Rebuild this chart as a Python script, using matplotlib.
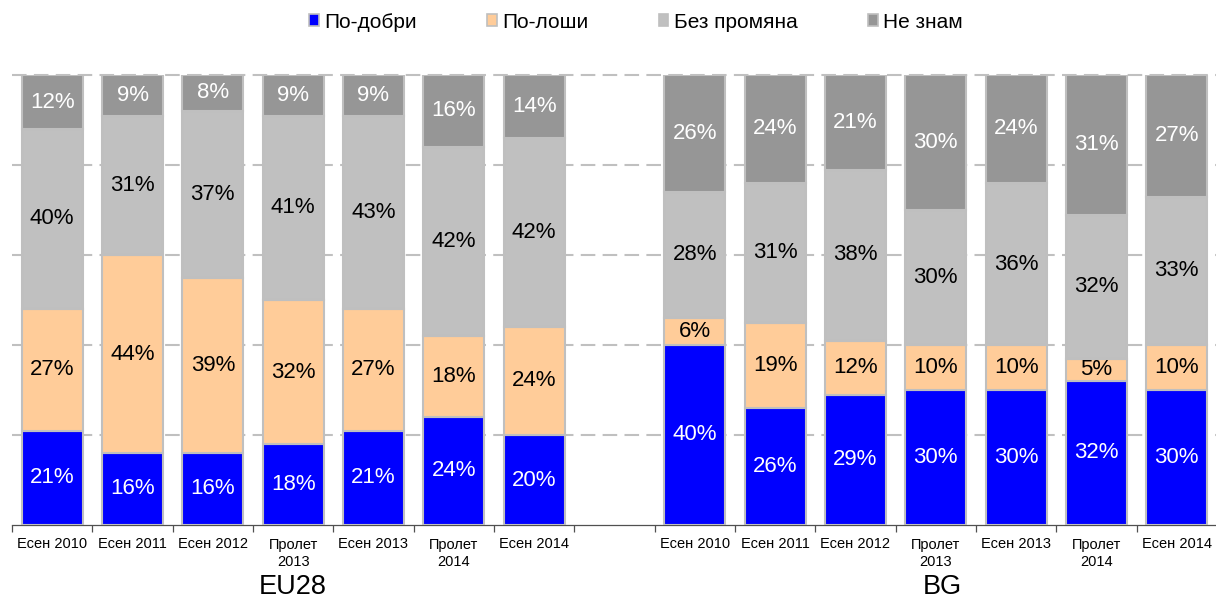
import numpy as np
import matplotlib
matplotlib.use("Agg")
import matplotlib.pyplot as plt
from matplotlib.patches import Rectangle

plt.rcParams['font.family'] = ['Liberation Sans', 'DejaVu Sans']

# --- data ---
periods = ["Есен 2010", "Есен 2011", "Есен 2012", "Пролет\n2013",
           "Есен 2013", "Пролет\n2014", "Есен 2014"]
series = ["По-добри", "По-лоши", "Без промяна", "Не знам"]

eu_better = [21, 16, 16, 18, 21, 24, 20]
eu_worse  = [27, 44, 39, 32, 27, 18, 24]
eu_same   = [40, 31, 37, 41, 43, 42, 42]
eu_dk     = [12, 9, 8, 9, 9, 16, 14]

bg_better = [40, 26, 29, 30, 30, 32, 30]
bg_worse  = [6, 19, 12, 10, 10, 5, 10]
bg_same   = [28, 31, 38, 30, 36, 32, 33]
bg_dk     = [26, 24, 21, 30, 24, 31, 27]

groups = ["EU28", "BG"]

colors = ["#0000ff", "#ffcc99", "#c0c0c0", "#969696"]
txt_colors = ["white", "black", "black", "white"]
edge = "#bfbfbf"

# --- layout ---
fig = plt.figure(figsize=(12.16, 6.03), dpi=100)
ax = fig.add_axes([12/1216, 1-525/603, 1205/1216, 450/603])

n = len(periods)
x_eu = np.arange(n)
x_bg = np.arange(n) + n + 1
xs = np.concatenate([x_eu, x_bg])

stack = [eu_better + bg_better, eu_worse + bg_worse,
         eu_same + bg_same, eu_dk + bg_dk]

bottom = np.zeros(len(xs))
for vals, col, tc in zip(stack, colors, txt_colors):
    vals = np.array(vals, dtype=float)
    ax.bar(xs, vals, bottom=bottom, width=0.76, color=col,
           edgecolor=edge, linewidth=1.5, zorder=3)
    for xi, b, v in zip(xs, bottom, vals):
        ax.text(xi, b + v/2, f"{int(v)}%", ha="center", va="center",
                fontsize=16, color=tc, zorder=4)
    bottom += vals

ax.set_xlim(-0.5, 2*n + 0.5)
ax.set_ylim(0, 100)

for yv in [20, 40, 60, 80, 100]:
    ax.axhline(yv, color="#c0c0c0", lw=1.5, ls=(0, (7, 3.5)), zorder=1,
               clip_on=False)

for s in ["left", "right", "top"]:
    ax.spines[s].set_visible(False)
ax.spines["bottom"].set_color("#505050")
ax.spines["bottom"].set_linewidth(0.9)

ax.set_yticks([])
ax.set_xticks(xs)
ax.set_xticklabels(periods + periods, fontsize=10.5, linespacing=1.3)
ax.tick_params(axis="x", which="major", length=0, pad=9)
ax.set_xticks(np.arange(-0.5, 2*n + 1, 1.0), minor=True)
ax.tick_params(axis="x", which="minor", length=5, color="#505050", width=0.9)

# group labels
ax.text(x_eu.mean(), -13.8, groups[0], ha="center", va="center",
        fontsize=19.5, clip_on=False)
ax.text(x_bg.mean() + 0.08, -13.8, groups[1], ha="center", va="center",
        fontsize=19.5, clip_on=False)

# legend
handles = [Rectangle((0, 0), 1, 1, facecolor=c, edgecolor=edge, lw=1.2)
           for c in colors]
fig.legend(handles, series, loc="center", bbox_to_anchor=(0.523, 1-22/603),
           ncol=4, frameon=False, fontsize=15, handlelength=0.45,
           handleheight=0.45, handletextpad=0.25, columnspacing=3.4)

fig.savefig("out.png", dpi=100)
